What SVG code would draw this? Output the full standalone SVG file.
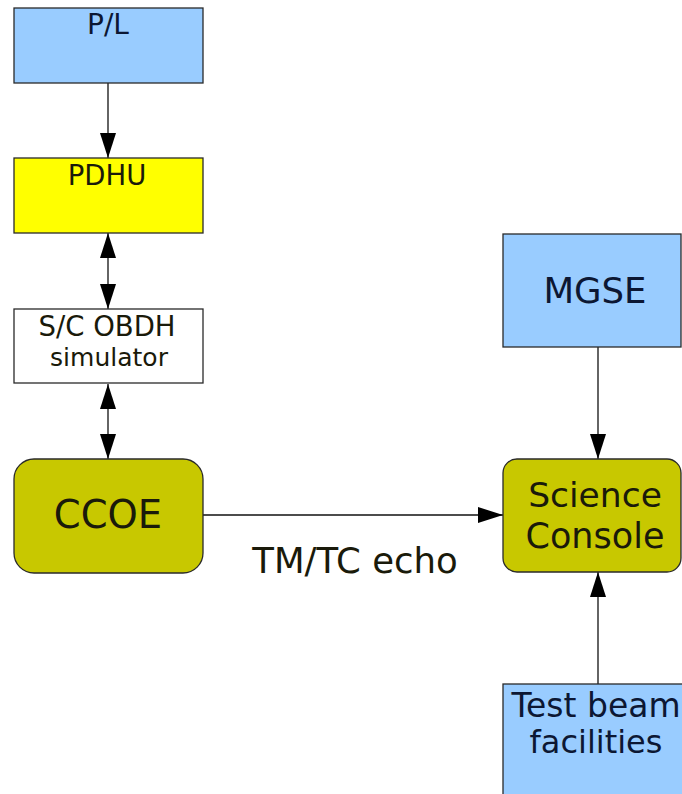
<svg xmlns="http://www.w3.org/2000/svg" width="682" height="794" viewBox="0 0 682 794">
  <style>
    .box { stroke: #2a2a2a; stroke-width: 1.3; }
    .blue { fill: #99ccff; }
    .yellow { fill: #ffff00; }
    .olive { fill: #c8c800; }
    .white { fill: #ffffff; }
    .t { font-family: "DejaVu Sans", Verdana, sans-serif; text-anchor: middle; }
    .tb { fill: #0c1733; }
    .td { fill: #1a1a0a; }
    .conn { stroke: #111; stroke-width: 1.3; fill: none; }
  </style>
  <defs>
    <marker id="ah" viewBox="0 0 25 16" refX="25" refY="8" markerWidth="25" markerHeight="16" markerUnits="userSpaceOnUse" orient="auto-start-reverse">
      <path d="M0,0 L25,8 L0,16 z" fill="#000"/>
    </marker>
  </defs>
  <rect width="682" height="794" fill="#ffffff"/>

  <g id="connectors">
    <line class="conn" x1="108" y1="83" x2="108" y2="158" marker-end="url(#ah)"/>
    <line class="conn" x1="108" y1="233" x2="108" y2="309" marker-start="url(#ah)" marker-end="url(#ah)"/>
    <line class="conn" x1="108" y1="384" x2="108" y2="459" marker-start="url(#ah)" marker-end="url(#ah)"/>
    <line class="conn" x1="203" y1="515" x2="503" y2="515" marker-end="url(#ah)"/>
    <line class="conn" x1="598" y1="347" x2="598" y2="459" marker-end="url(#ah)"/>
    <line class="conn" x1="598" y1="684" x2="598" y2="572" marker-end="url(#ah)"/>
    <text class="t td" x="355" y="573" font-size="35.5">TM/TC echo</text>
  </g>

  <g id="pl">
    <rect class="box blue" x="14" y="8" width="189" height="75"/>
    <text class="t tb" x="108" y="34" font-size="28">P/L</text>
  </g>

  <g id="pdhu">
    <rect class="box yellow" x="14" y="158" width="189" height="75"/>
    <text class="t td" x="107" y="185" font-size="27.5">PDHU</text>
  </g>

  <g id="obdh">
    <rect class="box white" x="14" y="309" width="189" height="74"/>
    <text class="t td" x="107" y="336" font-size="27.5">S/C OBDH</text>
    <text class="t td" x="109" y="366" font-size="25">simulator</text>
  </g>

  <g id="ccoe">
    <rect class="box olive" x="14" y="459" width="189" height="114" rx="20" ry="20"/>
    <text class="t td" x="108" y="528" font-size="38.5">CCOE</text>
  </g>

  <g id="mgse">
    <rect class="box blue" x="503" y="234" width="178" height="113"/>
    <text class="t tb" x="595" y="303" font-size="35.5">MGSE</text>
  </g>

  <g id="science">
    <rect class="box olive" x="503" y="459" width="178" height="113" rx="14" ry="14"/>
    <text class="t td" x="595" y="507" font-size="34.5">Science</text>
    <text class="t td" x="595" y="548" font-size="35">Console</text>
  </g>

  <g id="testbeam">
    <rect class="box blue" x="503" y="684" width="200" height="130"/>
    <text class="t tb" x="596" y="717" font-size="33">Test beam</text>
    <text class="t tb" x="596" y="753" font-size="32">facilities</text>
  </g>
</svg>
